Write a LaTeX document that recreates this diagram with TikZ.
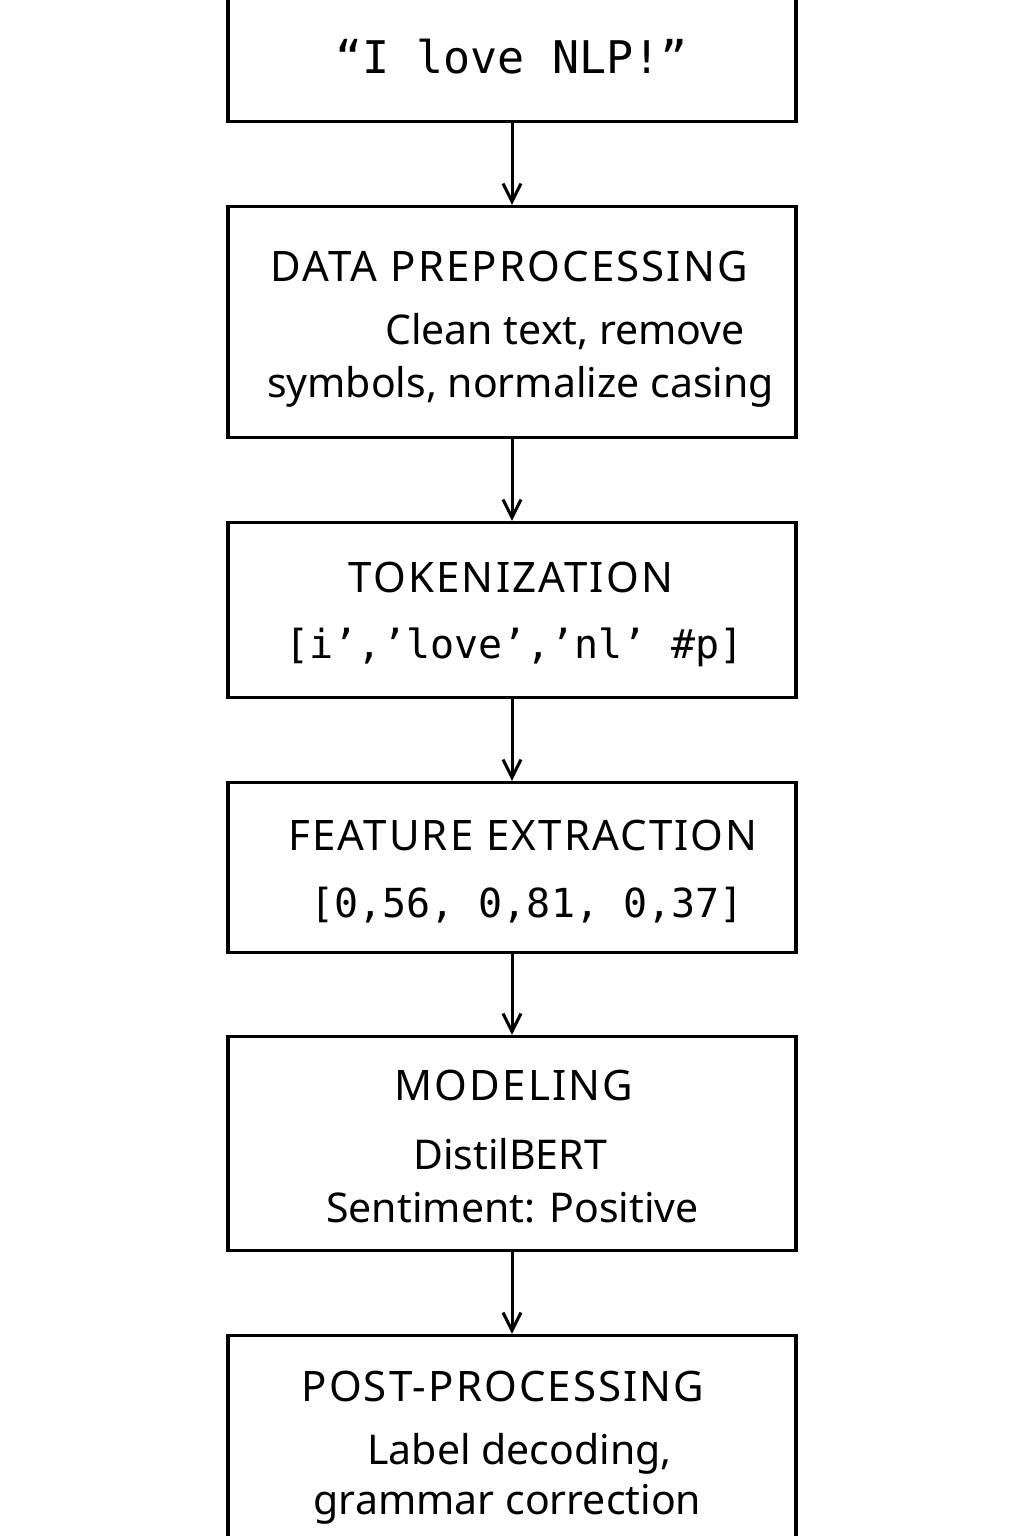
\documentclass[tikz,border=0pt]{standalone}
\usepackage{fontspec}
\setmainfont{Noto Sans}
\setmonofont{DejaVu Sans Mono}
\newfontfamily\headfont[LetterSpace=5]{Noto Sans}
\usetikzlibrary{arrows.meta}

\tikzset{
  stage/.style={draw, line width=1.6pt, minimum width=284pt, inner sep=0pt},
  head/.style={anchor=base, font=\headfont\fontsize{21}{25}\selectfont},
  body/.style={anchor=base, font=\fontsize{20.5}{24}\selectfont},
  code/.style={anchor=base, font=\ttfamily\fontsize{20}{24}\selectfont},
  flow/.style={-{Straight Barb[length=9pt,width=9pt,line width=1.5pt]}, line width=1.5pt}
}

\begin{document}
\begin{tikzpicture}[x=0.5pt,y=-0.5pt]
    \clip (0,0) rectangle (1024,1536);
    \fill[white] (0,0) rectangle (1024,1536);

    % Stages
    \node[stage, minimum height=70.75pt] (input) at (512,50.75) {};
    \node[stage, minimum height=115.5pt] (prep) at (512,322) {};
    \node[stage, minimum height=87.5pt] (tok) at (512,610) {};
    \node[stage, minimum height=85pt] (feat) at (512,867.5) {};
    \node[stage, minimum height=107pt] (model) at (512,1143.5) {};
    \node[stage, minimum height=152.25pt] (post) at (512,1487.75) {};

    % Input sentence
    \node[code, font=\ttfamily\fontsize{22.5}{26}\selectfont] (input-txt) at (511.5,74) {“I love NLP!”};

    % Data preprocessing
    \node[head] (prep-title) at (509,281) {DATA PREPROCESSING};
    \node[body] (prep-l1) at (565,344) {Clean text, remove};
    \node[body] (prep-l2) at (520.5,397) {symbols, normalize casing};

    % Tokenization
    \node[head] (tok-title) at (511,592) {TOKENIZATION};
    \node[code] (tok-l1) at (514.5,658) {[i’,’love’,’nl’ \#p]};

    % Feature extraction
    \node[head] (feat-title) at (523,850) {FEATURE EXTRACTION};
    \node[code] (feat-l1) at (527,917) {[0,56, 0,81, 0,37]};

    % Modeling
    \node[head] (model-title) at (514,1100) {MODELING};
    \node[body] (model-l1) at (510,1169) {DistilBERT};
    \node[body] (model-l2) at (512.5,1222) {Sentiment: Positive};

    % Post-processing
    \node[head] (post-title) at (503,1401) {POST-PROCESSING};
    \node[body] (post-l1) at (519.5,1464) {Label decoding,};
    \node[body] (post-l2) at (507.5,1514) {grammar correction};

    % Arrows
    \draw[flow] (input) -- (prep);
    \draw[flow] (prep) -- (tok);
    \draw[flow] (tok) -- (feat);
    \draw[flow] (feat) -- (model);
    \draw[flow] (model) -- (post);
\end{tikzpicture}
\end{document}
